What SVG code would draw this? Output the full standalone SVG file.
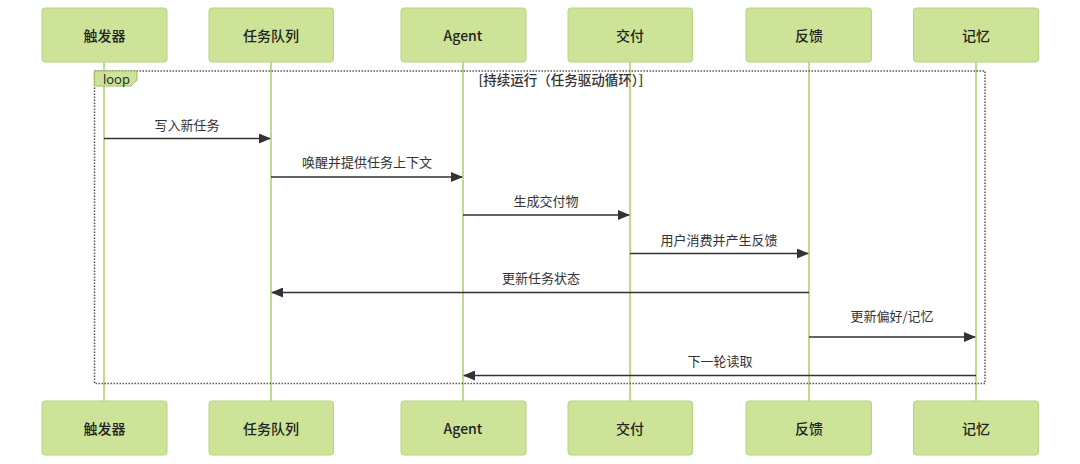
<svg xmlns="http://www.w3.org/2000/svg" width="1080" height="464" viewBox="0 0 1080 464">
<style>
.actor rect{fill:#cde498;stroke:#b5d57f;stroke-width:1}
.actor text{font-family:"Noto Sans CJK SC","Liberation Sans",sans-serif;font-size:14px;fill:#222;text-anchor:middle;dominant-baseline:central;font-weight:500}
.life{stroke:#a7d16b;stroke-width:1.5}
.msg{stroke:#333;stroke-width:1.5;fill:none}
.lbl{font-family:"Noto Sans CJK SC","Liberation Sans",sans-serif;font-size:13px;fill:#333;text-anchor:middle}
.loopbox{fill:none;stroke:#555;stroke-width:1.5;stroke-dasharray:1.5 1.5}
</style>
<defs>
<marker id="arr" viewBox="0 0 12 10" refX="11" refY="5" markerWidth="12" markerHeight="10" markerUnits="userSpaceOnUse" orient="auto">
<path d="M0,0 L12,5 L0,10 z" fill="#333"/>
</marker>
</defs>
<rect width="1080" height="464" fill="#fff"/>
<g id="lifelines">
<line class="life" x1="104" y1="62" x2="104" y2="401"/>
<line class="life" x1="271" y1="62" x2="271" y2="401"/>
<line class="life" x1="463" y1="62" x2="463" y2="401"/>
<line class="life" x1="630" y1="62" x2="630" y2="401"/>
<line class="life" x1="809" y1="62" x2="809" y2="401"/>
<line class="life" x1="976" y1="62" x2="976" y2="401"/>
</g>
<g id="loop">
<rect class="loopbox" x="94.5" y="71" width="890.5" height="312.5"/>
<path d="M94.5,71 H137 V80 L131,86 H94.5 Z" fill="#cde498" stroke="#9bbf62" stroke-width="1"/>
<text x="103" y="83.5" font-family="'Open Sans','Liberation Sans',sans-serif" font-size="13" fill="#222">loop</text>
<text x="561" y="85" font-family="'Noto Sans CJK SC','Liberation Sans',sans-serif" font-size="13.5" font-weight="500" fill="#333" text-anchor="middle">[持续运行（任务驱动循环）]</text>
</g>
<g id="top-actors">
<g id="a-trigger" class="actor"><rect x="42" y="8" width="125" height="54" rx="3"/><text x="104.5" y="35">触发器</text></g>
<g id="a-queue" class="actor"><rect x="209" y="8" width="124.5" height="54" rx="3"/><text x="271" y="35">任务队列</text></g>
<g id="a-agent" class="actor"><rect x="401" y="8" width="125" height="54" rx="3"/><text x="463" y="35">Agent</text></g>
<g id="a-deliver" class="actor"><rect x="568" y="8" width="124.5" height="54" rx="3"/><text x="630" y="35">交付</text></g>
<g id="a-feedback" class="actor"><rect x="746" y="8" width="125.5" height="54" rx="3"/><text x="809" y="35">反馈</text></g>
<g id="a-memory" class="actor"><rect x="913.5" y="8" width="125" height="54" rx="3"/><text x="976" y="35">记忆</text></g>
</g>
<g id="bottom-actors">
<g id="b-trigger" class="actor"><rect x="42" y="401" width="125" height="54" rx="3"/><text x="104.5" y="428">触发器</text></g>
<g id="b-queue" class="actor"><rect x="209" y="401" width="124.5" height="54" rx="3"/><text x="271" y="428">任务队列</text></g>
<g id="b-agent" class="actor"><rect x="401" y="401" width="125" height="54" rx="3"/><text x="463" y="428">Agent</text></g>
<g id="b-deliver" class="actor"><rect x="568" y="401" width="124.5" height="54" rx="3"/><text x="630" y="428">交付</text></g>
<g id="b-feedback" class="actor"><rect x="746" y="401" width="125.5" height="54" rx="3"/><text x="809" y="428">反馈</text></g>
<g id="b-memory" class="actor"><rect x="913.5" y="401" width="125" height="54" rx="3"/><text x="976" y="428">记忆</text></g>
</g>
<g id="messages">
<line class="msg" x1="104" y1="138.5" x2="270" y2="138.5" marker-end="url(#arr)"/>
<text class="lbl" x="187" y="130">写入新任务</text>
<line class="msg" x1="271" y1="177" x2="462" y2="177" marker-end="url(#arr)"/>
<text class="lbl" x="367" y="167">唤醒并提供任务上下文</text>
<line class="msg" x1="463" y1="215" x2="629" y2="215" marker-end="url(#arr)"/>
<text class="lbl" x="546" y="206">生成交付物</text>
<line class="msg" x1="630" y1="253.5" x2="808" y2="253.5" marker-end="url(#arr)"/>
<text class="lbl" x="719" y="245">用户消费并产生反馈</text>
<line class="msg" x1="809" y1="292.5" x2="272" y2="292.5" marker-end="url(#arr)"/>
<text class="lbl" x="541" y="283">更新任务状态</text>
<line class="msg" x1="809" y1="337" x2="975" y2="337" marker-end="url(#arr)"/>
<text class="lbl" x="892" y="321">更新偏好/记忆</text>
<line class="msg" x1="976" y1="375.5" x2="464" y2="375.5" marker-end="url(#arr)"/>
<text class="lbl" x="720" y="366">下一轮读取</text>
</g>
</svg>
